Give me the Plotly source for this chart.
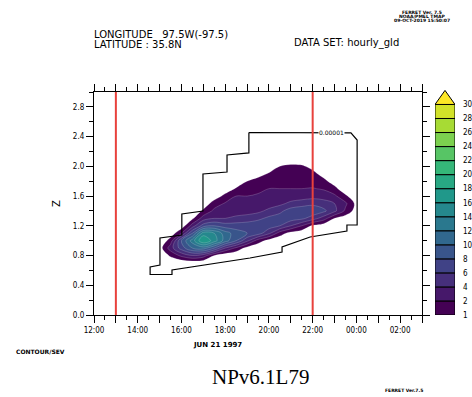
import numpy as np
import pandas as pd
import plotly.graph_objects as go
from plotly.colors import sample_colorscale

# ---------------- data ----------------
heights = [0.6, 0.7, 0.8, 0.9, 1.0, 1.1, 1.2, 1.3, 1.4, 1.5,
           1.6, 1.7, 1.8, 1.9, 2.0, 2.1, 2.2]

times = ["1997-06-21 14:30", "1997-06-21 15:00", "1997-06-21 15:30",
         "1997-06-21 16:00", "1997-06-21 16:30", "1997-06-21 17:00",
         "1997-06-21 17:30", "1997-06-21 18:00", "1997-06-21 18:30",
         "1997-06-21 19:00", "1997-06-21 19:30", "1997-06-21 20:00",
         "1997-06-21 20:30", "1997-06-21 21:00", "1997-06-21 21:30",
         "1997-06-21 22:00", "1997-06-21 22:30", "1997-06-21 23:00",
         "1997-06-21 23:30", "1997-06-22 00:00", "1997-06-22 00:30"]

# one row per height, one column per time
field = [
    [0, 0, 0, 0, 0, 0, 0, 0, 0, 0, 0, 0, 0, 0, 0, 0, 0, 0, 0, 0, 0],
    [0, 0, 0, 0.2, 0.3, 0.2, 0, 0, 0, 0, 0, 0, 0, 0, 0, 0, 0, 0, 0, 0, 0],
    [0, 0, 1.2, 2.5, 4, 3, 1.0, 0.3, 0.1, 0, 0, 0, 0, 0, 0, 0, 0, 0, 0, 0, 0],
    [0, 0.5, 3, 7, 10, 11, 8, 4, 1.8, 0.6, 0.2, 0, 0, 0, 0, 0, 0, 0, 0, 0, 0],
    [0, 0, 1.5, 8, 13, 18, 15, 11, 8, 4.5, 1.5, 0.6, 0.2, 0, 0, 0, 0, 0, 0, 0, 0],
    [0, 0, 0.3, 2, 8, 15, 14, 11, 9, 8, 7, 4.5, 1.5, 0.6, 0.3, 0, 0, 0, 0, 0, 0],
    [0, 0, 0, 0.3, 3, 7, 8, 7, 7, 7, 7.5, 7, 6, 4, 2, 0.8, 0.4, 0.2, 0, 0, 0],
    [0, 0, 0, 0, 0.8, 3, 4, 4, 4.5, 5, 5.5, 6.5, 7, 7, 6.5, 5, 3, 1.0, 0.4, 0, 0],
    [0, 0, 0, 0, 0.2, 1.2, 2.5, 3, 3, 3, 3.5, 4.5, 5.5, 7, 7.5, 7.5, 6.5, 4.5, 1.8, 0.5, 0],
    [0, 0, 0, 0, 0, 0.3, 1.5, 2.2, 2.5, 2.5, 2.8, 3, 3.5, 4.5, 5, 5.5, 5, 4, 2.4, 0.7, 0],
    [0, 0, 0, 0, 0, 0, 0.4, 1.3, 2, 2, 2.2, 2.4, 2.5, 2.8, 3, 3.2, 3, 2.4, 1.2, 0.2, 0],
    [0, 0, 0, 0, 0, 0, 0, 0.4, 1.1, 1.6, 1.8, 2, 2, 2, 2, 2.1, 1.9, 1.3, 0.3, 0, 0],
    [0, 0, 0, 0, 0, 0, 0, 0, 0.3, 1.0, 1.4, 1.6, 1.7, 1.7, 1.7, 1.6, 1.3, 0.5, 0, 0, 0],
    [0, 0, 0, 0, 0, 0, 0, 0, 0, 0.2, 0.6, 1.1, 1.4, 1.5, 1.5, 1.3, 0.6, 0, 0, 0, 0],
    [0, 0, 0, 0, 0, 0, 0, 0, 0, 0, 0, 0.3, 1.0, 1.2, 1.15, 0.7, 0, 0, 0, 0, 0],
    [0, 0, 0, 0, 0, 0, 0, 0, 0, 0, 0, 0, 0.2, 0.4, 0.3, 0, 0, 0, 0, 0, 0],
    [0, 0, 0, 0, 0, 0, 0, 0, 0, 0, 0, 0, 0, 0, 0, 0, 0, 0, 0, 0, 0],
]

contour_levels = [1, 2, 4, 6, 8, 10, 12, 14, 16, 18, 20, 22, 24, 26, 28, 30]

# 0.00001 contour (outline of the whole non-zero region)
outline_time = ["1997-06-21 19:05", "1997-06-21 19:05", "1997-06-21 18:05",
                "1997-06-21 18:05", "1997-06-21 16:59", "1997-06-21 16:59",
                "1997-06-21 16:01", "1997-06-21 16:01", "1997-06-21 15:01",
                "1997-06-21 15:01", "1997-06-21 14:34", "1997-06-21 14:34",
                "1997-06-21 15:34", "1997-06-21 15:34", "1997-06-21 19:08",
                "1997-06-21 20:36", "1997-06-21 20:36", "1997-06-21 21:53",
                "1997-06-21 23:34", "1997-06-21 23:34", "1997-06-22 00:02",
                "1997-06-22 00:02", "1997-06-21 23:45", "1997-06-21 19:05"]
outline_z = [2.455, 2.18, 2.153, 1.924, 1.897, 1.399, 1.359, 1.076, 1.036,
             0.673, 0.646, 0.545, 0.545, 0.605, 0.767, 0.848, 0.915, 1.049,
             1.130, 1.211, 1.211, 2.354, 2.449, 2.455]
outline_label = "0.00001"

marker_times = ["1997-06-21 13:00", "1997-06-21 22:00"]

x_tick_labels = ["12:00", "", "14:00", "", "16:00", "", "18:00", "", "20:00",
                 "", "22:00", "", "00:00", "", "02:00", ""]
y_tick_values = [0.0, 0.4, 0.8, 1.2, 1.6, 2.0, 2.4, 2.8]
y_tick_labels = ["0.0", "0.4", "0.8", "1.2", "1.6", "2.0", "2.4", "2.8"]

# ---------------- layout geometry (pixels) ----------------
W, H = 472, 397
ML, MR, MT, MB = 94, 10, 85, 82
PW, PH = W - ML - MR, H - MT - MB


def px(x, y):
    """pixel position -> paper coordinates"""
    return (x - ML) / PW, (H - MB - y) / PH


# ---------------- colours ----------------
n_bands = len(contour_levels) - 1
band_colors = sample_colorscale("Viridis", [i / n_bands for i in range(n_bands)])
over_color = sample_colorscale("Viridis", [1.0])[0]

# stepped colour scale in "level index" space (-1 .. 15)
span = n_bands + 1
cscale = [[0.0, "rgba(255,255,255,0)"], [1 / span, "rgba(255,255,255,0)"]]
for i, c in enumerate(band_colors):
    cscale.append([(i + 1) / span, c])
    cscale.append([(i + 2) / span, c])

# map values onto the (uneven) contour levels so each band is one unit wide
z_values = np.array(field, dtype=float)
z_index = np.interp(z_values, [0] + contour_levels,
                    [-1] + list(range(len(contour_levels))))

fig = go.Figure()

fig.add_trace(go.Contour(
    x=times, y=heights, z=z_index,
    zmin=-1, zmax=n_bands,
    colorscale=cscale, showscale=False,
    contours=dict(start=0, end=n_bands - 1, size=1, coloring="fill"),
    line=dict(color="rgba(255,255,255,0.3)", width=0.6, smoothing=1.0),
    hoverinfo="skip",
))

fig.add_trace(go.Scatter(
    x=outline_time, y=outline_z, mode="lines",
    line=dict(color="black", width=1.2), showlegend=False, hoverinfo="skip",
))

for t in marker_times:
    fig.add_vline(x=t, line=dict(color="#e8413c", width=2), layer="above")

fig.add_annotation(x="1997-06-21 22:52", y=2.45, xref="x", yref="y",
                   text=outline_label, showarrow=False, bgcolor="white",
                   font=dict(size=6, color="black", family="DejaVu Sans"),
                   borderpad=0)

# ---------------- colour key ----------------
fig.add_trace(go.Bar(
    x=[0] * n_bands, y=[1] * n_bands, base=list(range(n_bands)), width=1,
    marker=dict(color=band_colors, line=dict(color="black", width=1)),
    xaxis="x2", yaxis="y2", showlegend=False, hoverinfo="skip",
))
fig.add_trace(go.Scatter(
    x=[-0.5, 0, 0.5, -0.5], y=[n_bands, n_bands + 1, n_bands, n_bands],
    mode="lines", fill="toself", fillcolor=over_color,
    line=dict(color="black", width=1),
    xaxis="x2", yaxis="y2", showlegend=False, hoverinfo="skip",
))

tick_font = dict(family="DejaVu Sans Condensed, DejaVu Sans", size=8, color="black")

x_tick_vals = pd.date_range("1997-06-21 12:00", periods=len(x_tick_labels), freq="1h")

fig.update_layout(
    width=W, height=H,
    margin=dict(l=ML, r=MR, t=MT, b=MB, autoexpand=False),
    paper_bgcolor="white", plot_bgcolor="white",
    showlegend=False,
    xaxis=dict(
        type="date", domain=[0, (422 - ML) / PW], automargin=False,
        range=["1997-06-21 12:00", "1997-06-22 03:00"],
        tickmode="array", tickvals=x_tick_vals, ticktext=x_tick_labels,
        ticks="outside", ticklen=7, tickwidth=1.2, tickcolor="black",
        minor=dict(ticks="outside", ticklen=4, tickwidth=1.2, tickcolor="black",
                   dtick=1800000, tick0="1997-06-21 12:00"),
        showline=True, linecolor="black", linewidth=1.2, mirror="allticks",
        showgrid=False, zeroline=False, tickfont=tick_font,
    ),
    yaxis=dict(
        domain=[0, (H - MB - 92) / PH], range=[0, 3], automargin=False,
        tickmode="array", tickvals=y_tick_values, ticktext=y_tick_labels,
        ticks="outside", ticklen=7, tickwidth=1.2, tickcolor="black",
        minor=dict(ticks="outside", ticklen=4, tickwidth=1.2, tickcolor="black",
                   dtick=0.2, tick0=0),
        showline=True, linecolor="black", linewidth=1.2, mirror="allticks",
        showgrid=False, zeroline=False, tickfont=tick_font,
        title=dict(text="Z", standoff=10,
                   font=dict(family="DejaVu Sans", size=10, color="black")),
    ),
    xaxis2=dict(domain=[(435 - ML) / PW, (455 - ML) / PW], range=[-0.5, 0.5],
                anchor="y2", visible=False, fixedrange=True, automargin=False),
    yaxis2=dict(domain=[0, (H - MB - 90) / PH], range=[0, n_bands + 1.03],
                anchor="x2", side="right", tickmode="array", automargin=False,
                tickvals=list(range(len(contour_levels))),
                ticktext=[str(v) for v in contour_levels],
                ticks="", showline=False, showgrid=False, zeroline=False,
                ticklabelstandoff=7,
                tickfont=dict(family="DejaVu Sans Condensed, DejaVu Sans",
                              size=8, color="black")),
)

# ---------------- header / footer text ----------------
def label(x, y, text, size, family="DejaVu Sans", xanchor="left", **kw):
    xp, yp = px(x, y)
    fig.add_annotation(x=xp, y=yp, xref="paper", yref="paper", text=text,
                       showarrow=False, xanchor=xanchor, yanchor="middle",
                       font=dict(family=family, size=size, color="black"), **kw)


label(92, 35, "LONGITUDE   97.5W(-97.5)", 10)
label(92, 45, "LATITUDE : 35.8N", 10)
label(292, 43, "DATA SET: hourly_gld", 10)
label(422, 12, "<b>FERRET Ver. 7.5</b>", 4.5, xanchor="center")
label(422, 16.5, "<b>NOAA/PMEL TMAP</b>", 4.5, xanchor="center")
label(422, 20.5, "<b>09-OCT-2019 15:50:07</b>", 4.5, xanchor="center")
label(14, 351, "<b>CONTOUR/SEV</b>", 6)
label(217, 345, "<b>JUN 21 1997</b>", 7, xanchor="center")
label(260, 377, "NPv6.1L79", 21, family="Liberation Serif", xanchor="center")
label(404, 391, "<b>FERRET Ver.7.5</b>", 4.5, xanchor="center")

fig.write_html("out.html")
